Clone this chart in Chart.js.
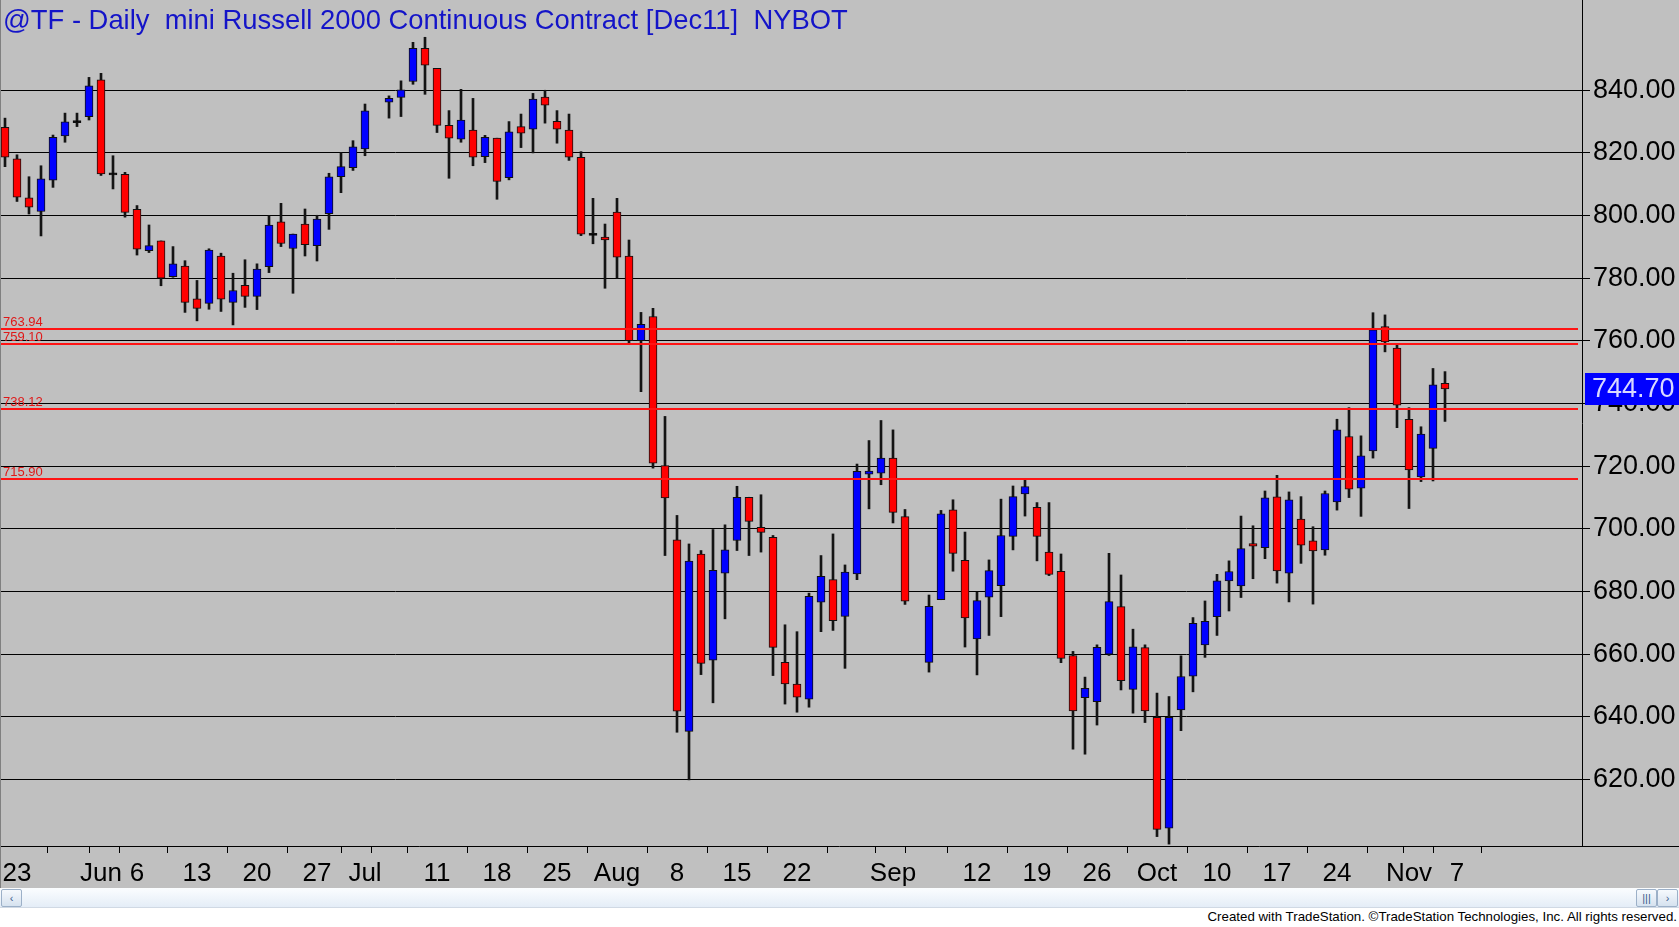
<!DOCTYPE html>
<html>
<head>
<meta charset="utf-8">
<script src="https://cdn.jsdelivr.net/npm/chart.js@4.4.1/dist/chart.umd.min.js"></script>
<style>
  body { margin: 0; background: #fff; overflow: hidden; }
  #wrap { position: relative; width: 1679px; height: 927px; }
  #c { position: absolute; left: 0; top: 0; background: #c0c0c0; }
  #title { position: absolute; left: 3px; top: 5px; font: 27.4px "Liberation Sans", Arial, sans-serif; color: #1414c8; white-space: pre; line-height: 30px; }
  #sb { position: absolute; left: 0; top: 888px; width: 1679px; height: 20px; box-sizing: border-box;
        background: linear-gradient(#fbfdff, #e4edf7); border-bottom: 1px solid #d0d9e4; }
  .btn { position: absolute; top: 1px; width: 19px; height: 16px; border: 1px solid #9cb0c8; border-radius: 2px;
         background: linear-gradient(#f6f9fd, #d6e2ef); font: 11px "Liberation Sans", Arial, sans-serif; color: #3c5c8c;
         text-align: center; line-height: 16px; }
  #foot { position: absolute; right: 2px; top: 909px; font: 13.3px "Liberation Sans", Arial, sans-serif; color: #000; white-space: nowrap; }
</style>
</head>
<body>
<div id="wrap">
  <canvas id="c" width="1679" height="888"></canvas>
  <div id="title">@TF - Daily  mini Russell 2000 Continuous Contract [Dec11]  NYBOT</div>
  <div id="sb">
    <div class="btn" style="left:1px">&lsaquo;</div>
    <div class="btn" style="left:1636px">|||</div>
    <div class="btn" style="left:1657px">&rsaquo;</div>
  </div>
  <div id="foot">Created with TradeStation. ©TradeStation Technologies, Inc. All rights reserved.</div>
</div>
<script>
// daily bars, one slot per weekday starting Fri May 20 2011 (null = no bar)
const open = [
  828.2, 818.1, 805.7, 801.3, 811.3, 825.4, 830.0, 831.6, 843.3, 813.3,
  813.2, 802.0, 788.8, 791.9, 780.5, 783.9, 773.4, 772.0, 787.1, 772.3,
  777.7, 774.2, 783.7, 798.0, 789.5, 797.3, 790.4, 800.6, 812.4, 815.3,
  821.3, null, 836.2, 837.7, 842.8, 853.4, 847.0, 828.8, 824.4, 827.3,
  818.8, 824.7, 812.1, 828.4, 827.6, 837.8, 830.1, 827.3, 818.6, 794.0,
  793.1, 801.1, 787.1, 760.1, 767.8, 720.2, 696.5, 635.4, 692.0, 658.1,
  685.9, 696.3, 710.1, 700.5, 697.3, 657.4, 650.5, 645.7, 676.6, 683.8,
  672.1, 685.6, 717.8, 717.8, 722.6, 703.9, null, 657.4, 677.4, 706.1,
  690.0, 664.9, 678.2, 681.9, 697.6, 711.2, 706.9, 692.6, 686.5, 659.6,
  646.1, 644.9, 660.0, 675.2, 648.8, 662.1, 639.9, 604.5, 642.2, 653.0,
  663.0, 672.0, 683.4, 681.8, 695.3, 694.0, 710.2, 685.9, 703.1, 696.2,
  693.3, 708.6, 729.5, 713.0, 724.9, 764.6, 757.7, 735.0, 716.6, 725.7,
  746.5
];
const high = [
  831.1, 819.4, 812.4, 815.9, 825.7, 832.7, 832.7, 844.1, 845.4, 819.1,
  813.8, 803.2, 797.0, 791.9, 790.1, 785.6, 779.3, 789.4, 788.0, 781.6,
  785.9, 784.6, 800.0, 803.9, 794.1, 802.1, 800.1, 813.5, 820.1, 823.9,
  835.6, null, 838.2, 843.0, 855.3, 856.9, 847.0, 833.5, 840.3, 837.4,
  825.6, 824.7, 830.0, 832.4, 839.0, 840.0, 833.5, 832.4, 820.4, 805.5,
  797.3, 805.5, 792.2, 769.1, 770.4, 735.9, 704.3, 695.2, 693.1, 699.8,
  701.3, 713.6, 710.1, 710.9, 697.9, 669.4, 667.2, 679.5, 691.5, 698.4,
  688.5, 720.7, 728.2, 734.6, 731.6, 706.2, null, 678.9, 705.9, 709.3,
  699.0, 679.8, 690.1, 709.5, 713.7, 715.5, 708.4, 708.4, 692.0, 660.9,
  652.7, 663.0, 692.2, 685.3, 668.0, 663.0, 647.6, 646.5, 659.5, 671.7,
  677.0, 685.5, 689.8, 704.1, 701.0, 712.1, 717.1, 711.8, 710.3, 700.7,
  712.1, 735.0, 738.7, 729.7, 769.0, 768.3, 759.1, 738.7, 732.6, 751.2,
  750.2
];
const low = [
  815.6, 804.5, 800.5, 793.5, 809.0, 823.4, 828.4, 830.5, 812.8, 808.5,
  799.5, 787.4, 788.2, 777.6, 780.3, 769.1, 766.4, 770.1, 769.4, 765.1,
  770.7, 770.0, 781.8, 790.1, 775.2, 787.1, 785.5, 795.6, 807.3, 814.4,
  819.1, null, 831.1, 831.6, 841.9, 838.7, 826.5, 811.9, 823.4, 815.9,
  816.9, 805.2, 811.4, 821.7, 820.0, 829.5, 823.1, 817.6, 793.6, 791.0,
  776.8, 780.0, 759.3, 743.8, 719.4, 691.5, 635.1, 619.9, 653.5, 644.5,
  671.3, 693.1, 691.5, 692.6, 653.2, 644.1, 641.5, 643.1, 667.2, 667.6,
  655.5, 683.8, 706.4, 714.1, 701.9, 675.9, null, 654.3, 677.4, 686.5,
  662.3, 653.4, 666.0, 672.0, 693.3, 704.1, 689.8, 685.1, 657.3, 629.7,
  628.1, 637.4, 659.6, 648.6, 641.2, 638.2, 601.8, 599.4, 635.6, 648.0,
  659.0, 666.0, 673.8, 678.1, 684.1, 690.5, 682.7, 676.7, 689.0, 676.0,
  691.6, 706.0, 710.0, 704.0, 722.6, 756.5, 732.3, 706.5, 715.1, 715.3,
  734.3
];
const close = [
  818.6, 805.9, 802.7, 811.7, 825.0, 829.9, 830.0, 841.4, 813.3, 813.3,
  801.0, 789.3, 790.4, 780.0, 784.6, 772.3, 770.4, 789.0, 773.3, 776.1,
  774.2, 782.9, 797.0, 791.1, 794.1, 790.7, 798.9, 812.4, 815.6, 821.9,
  833.4, null, 837.4, 840.1, 853.4, 848.0, 828.8, 824.7, 830.5, 818.6,
  825.0, 810.9, 826.7, 826.3, 837.2, 835.2, 827.6, 818.6, 794.1, 794.0,
  792.2, 786.7, 760.1, 765.3, 721.0, 709.9, 641.8, 689.7, 657.1, 686.8,
  693.3, 710.1, 702.4, 698.9, 662.2, 650.5, 646.3, 678.5, 684.9, 670.7,
  686.2, 718.4, 718.1, 722.6, 705.3, 676.9, null, 675.3, 704.8, 692.2,
  671.6, 677.1, 686.7, 697.9, 710.3, 713.5, 697.6, 685.5, 658.7, 641.9,
  649.1, 662.2, 676.8, 651.6, 662.4, 641.9, 604.1, 639.9, 652.9, 669.9,
  670.5, 683.4, 686.4, 693.7, 694.5, 709.9, 686.6, 709.3, 694.8, 693.0,
  711.3, 731.6, 712.7, 723.3, 763.5, 759.7, 739.5, 718.8, 730.3, 746.0,
  744.7
];

// x axis: slot index of each tick and its label
const tickSlots = [1, 6, 8, 11, 16, 21, 26, 30, 31, 36, 41, 46, 51, 56, 61, 66, 71,
                   74, 76, 81, 86, 91, 96, 101, 106, 111, 116, 117, 121];
const tickNames = ['23', '', 'Jun', '6', '13', '20', '27', 'Jul', '', '11', '18', '25', 'Aug', '8', '15', '22', '',
                   'Sep', '', '12', '19', '26', 'Oct', '10', '17', '24', '', 'Nov', '7'];
const yTicks = [620, 640, 660, 680, 700, 720, 740, 760, 780, 800, 820, 840];
const levels = [763.94, 759.10, 738.12, 715.90];
const lastPrice = 744.70;

const wicks = [];
const bodies = [];
const bodyColors = [];
for (let i = 0; i < open.length; i++) {
  if (open[i] === null) continue;
  wicks.push({ x: i, y: [low[i], high[i]] });
  let lo = Math.min(open[i], close[i]);
  let hi = Math.max(open[i], close[i]);
  if (hi - lo < 0.4) { lo -= 0.35; hi += 0.35; }
  bodies.push({ x: i, y: [lo, hi] });
  bodyColors.push(close[i] > open[i] ? '#0000ff' : close[i] < open[i] ? '#ff0000' : '#000000');
}

const overlay = {
  id: 'overlay',
  afterDatasetsDraw(chart) {
    const { ctx, chartArea: a, scales: { y } } = chart;
    ctx.save();
    ctx.strokeStyle = '#ff1414';
    ctx.lineWidth = 2;
    ctx.fillStyle = '#e01818';
    ctx.font = '13px "Liberation Sans", Arial, sans-serif';
    ctx.textBaseline = 'alphabetic';
    levels.forEach(v => {
      const py = Math.round(y.getPixelForValue(v));
      ctx.beginPath();
      ctx.moveTo(a.left, py);
      ctx.lineTo(a.right - 4, py);
      ctx.stroke();
      ctx.fillText(v.toFixed(2), 3, py - 3);
    });
    ctx.restore();
  },
  afterDraw(chart) {
    const { ctx, chartArea: a, scales: { y } } = chart;
    ctx.save();
    // bottom axis line runs under the price scale too
    ctx.strokeStyle = '#000';
    ctx.lineWidth = 1;
    ctx.beginPath();
    ctx.moveTo(0, a.bottom + 0.5);
    ctx.lineTo(chart.width, a.bottom + 0.5);
    ctx.stroke();
    ctx.strokeStyle = '#808080';
    ctx.beginPath();
    ctx.moveTo(0.5, 0);
    ctx.lineTo(0.5, chart.height);
    ctx.stroke();
    // last price box
    const py = y.getPixelForValue(lastPrice);
    ctx.fillStyle = '#0000ff';
    ctx.fillRect(a.right + 3, Math.round(py) - 16, chart.width - a.right - 3, 32);
    ctx.fillStyle = '#d8d8ff';
    ctx.font = '27px "Liberation Sans", Arial, sans-serif';
    ctx.textBaseline = 'middle';
    ctx.fillText(lastPrice.toFixed(2), a.right + 10, py + 1);
    ctx.restore();
  }
};

const ctx = document.getElementById('c').getContext('2d');
const chart = new Chart(ctx, {
  type: 'bar',
  data: {
    datasets: [
      {
        label: 'range',
        data: wicks,
        backgroundColor: '#141414',
        borderWidth: 0,
        barThickness: 2,
        grouped: false,
        order: 2,
      },
      {
        label: 'body',
        data: bodies,
        backgroundColor: bodyColors,
        borderColor: '#101010',
        borderWidth: 1,
        borderSkipped: false,
        barThickness: 8,
        grouped: false,
        order: 1,
      },
    ],
  },
  options: {
    responsive: false,
    devicePixelRatio: 1,
    animation: false,
    layout: { padding: 0, autoPadding: false },
    plugins: { legend: { display: false }, tooltip: { enabled: false }, title: { display: false } },
    scales: {
      x: {
        type: 'linear',
        position: 'bottom',
        min: -5 / 12,
        max: 1577 / 12,
        offset: false,
        border: { display: false },
        grid: { drawOnChartArea: false, drawTicks: true, tickLength: 7, color: '#000', lineWidth: 1 },
        ticks: {
          autoSkip: false,
          maxRotation: 0,
          minRotation: 0,
          padding: 5,
          color: '#000',
          font: { family: '"Liberation Sans", Arial, sans-serif', size: 26 },
          callback: (v, i) => tickNames[i],
        },
        afterBuildTicks: (s) => { s.ticks = tickSlots.map(v => ({ value: v })); },
        afterFit: (s) => { s.height = 42; s.paddingLeft = 0; s.paddingRight = 0; },
      },
      y: {
        type: 'linear',
        position: 'right',
        min: 598.8,
        max: 868.8,
        border: { display: true, color: '#000', width: 1 },
        grid: { color: '#000', lineWidth: 1, tickLength: 8 },
        ticks: {
          padding: 3,
          color: '#000',
          font: { family: '"Liberation Sans", Arial, sans-serif', size: 27 },
          callback: (v) => v.toFixed(2),
        },
        afterBuildTicks: (s) => { s.ticks = yTicks.map(v => ({ value: v })); },
        afterFit: (s) => { s.width = 97; s.paddingTop = 0; s.paddingBottom = 0; },
      },
    },
  },
  plugins: [overlay],
});
</script>
</body>
</html>
